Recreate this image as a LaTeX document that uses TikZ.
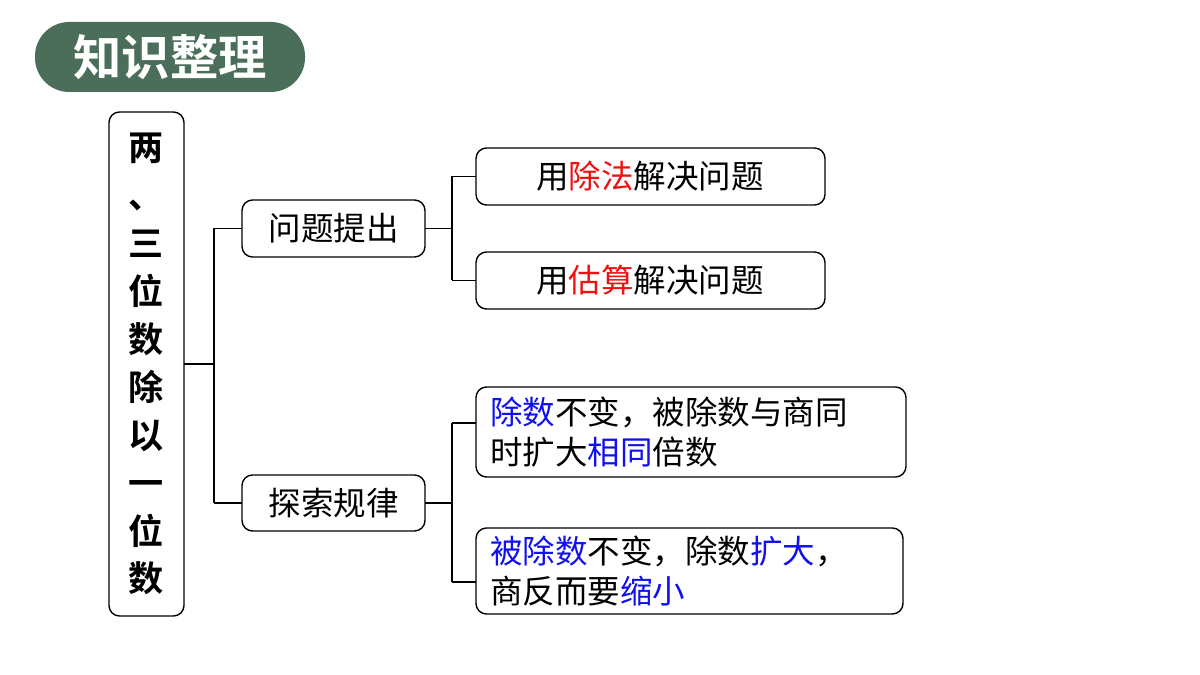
\documentclass[tikz,border=0pt]{standalone}
\usepackage{fontspec}
\setmainfont{Noto Sans CJK SC}[BoldFont={Noto Sans CJK SC Bold}]
\newfontfamily\cjkb{Noto Sans CJK SC Bold}
\definecolor{pill}{HTML}{4B6E5B}
\definecolor{hb}{HTML}{1010F0}
\definecolor{hr}{HTML}{F01010}
\begin{document}
\begin{tikzpicture}[x=0.02cm,y=-0.02cm,
  box/.style={draw,thick,rounded corners=6pt,inner sep=0pt},
  ln/.style={draw,thick},
  txt/.style={font=\fontsize{18.5}{23}\selectfont,align=left,anchor=west}]
\useasboundingbox (0,0) rectangle (1200,675);
\fill[pill,rounded corners=19.5pt] (35,22) rectangle (305,92);
\node[text=white,font=\cjkb\fontsize{27.5}{30}\selectfont] (title) at (170,57) {知识整理};
\draw[box] (109,112) rectangle (184,616);
\node[font=\cjkb\fontsize{20}{27.3}\selectfont,align=center] (main) at (146.5,364) {两\\、\\三\\位\\数\\除\\以\\一\\位\\数};
\draw[box] (242,200) rectangle (425,257);
\node[txt,anchor=center] (a) at (333.5,228.5) {问题提出};
\draw[box] (242,475) rectangle (425,531);
\node[txt,anchor=center] (b) at (333.5,503) {探索规律};
\draw[box] (476,148) rectangle (825,205);
\node[txt,anchor=center] (a1) at (650,176.5) {用\textcolor{hr}{除法}解决问题};
\draw[box] (476,252) rectangle (825,309);
\node[txt,anchor=center] (a2) at (650,280.5) {用\textcolor{hr}{估算}解决问题};
\draw[box] (476,387) rectangle (906,477);
\node[txt] (b1) at (484,432) {\textcolor{hb}{除数}不变，被除数与商同\\时扩大\textcolor{hb}{相同}倍数};
\draw[box] (476,528) rectangle (903,614);
\node[txt] (b2) at (484,571) {\textcolor{hb}{被除数}不变，除数\textcolor{hb}{扩大}，\\商反而要\textcolor{hb}{缩小}};
\draw[ln] (184,364) -- (214,364) (214,228.5) -- (214,503) (214,228.5) -- (242,228.5) (214,503) -- (242,503);
\draw[ln] (425,228.5) -- (452,228.5) (452,176.5) -- (452,280.5) (452,176.5) -- (476,176.5) (452,280.5) -- (476,280.5);
\draw[ln] (425,503) -- (452,503) (452,423) -- (452,582) (452,423) -- (476,423) (452,582) -- (476,582);
\end{tikzpicture}
\end{document}
